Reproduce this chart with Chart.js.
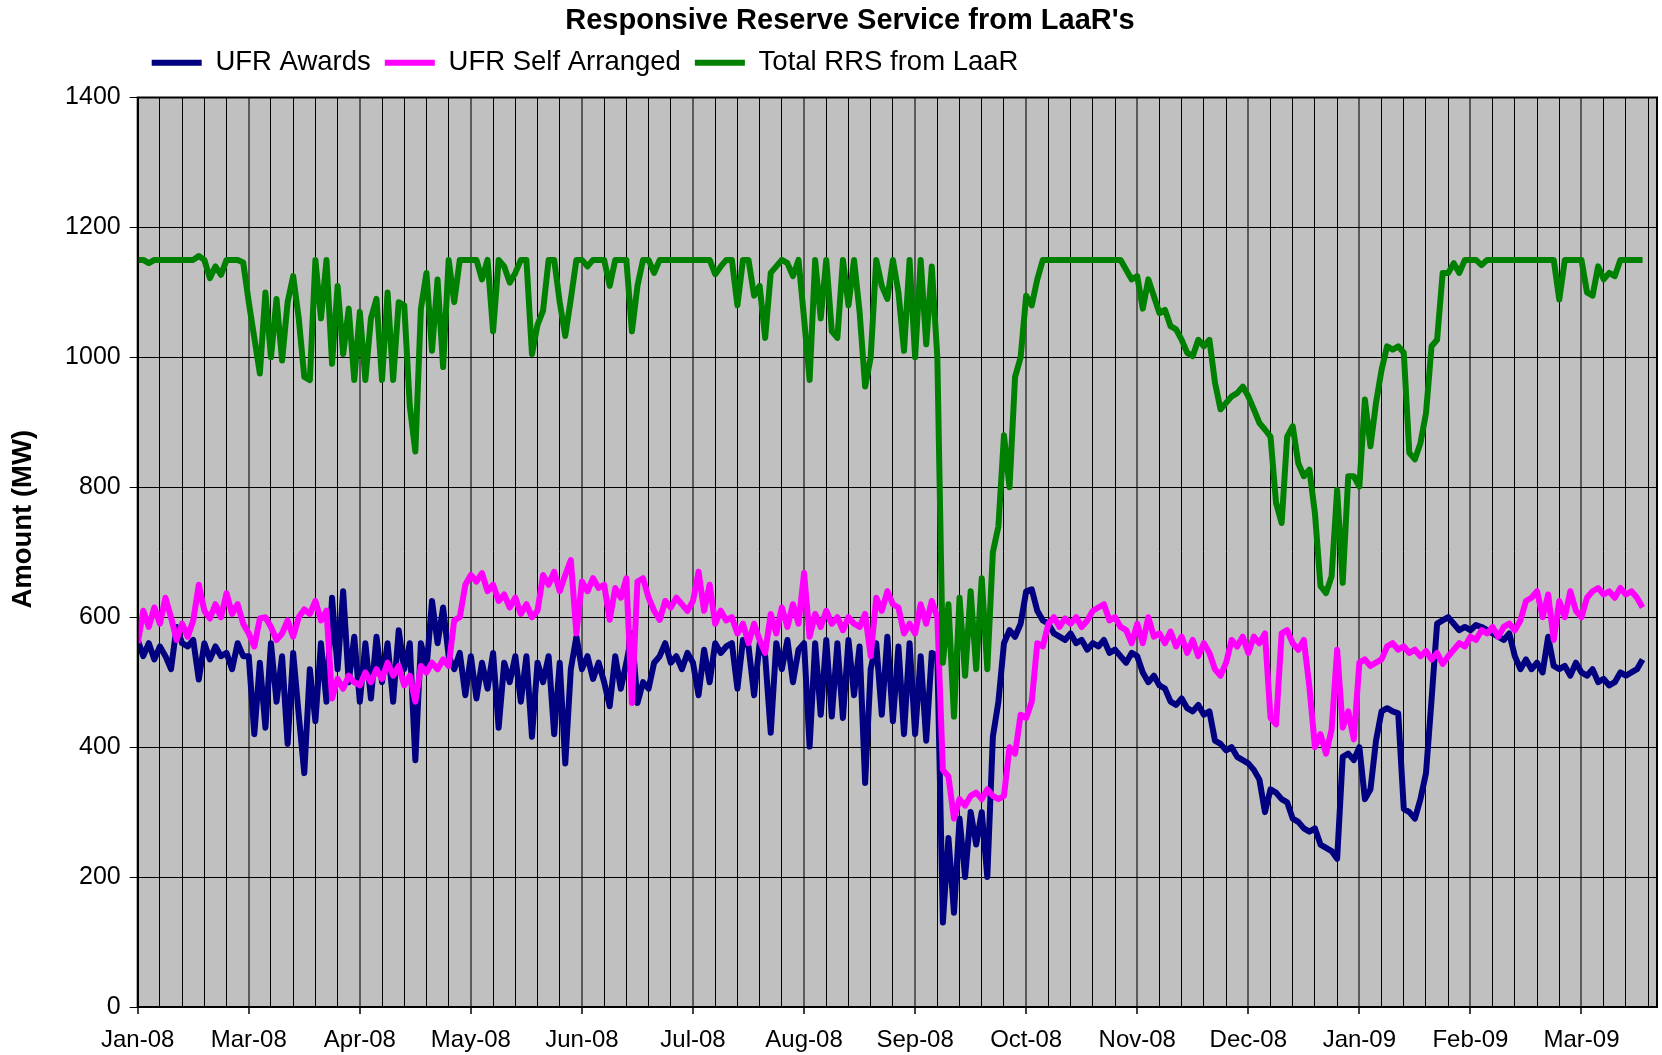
<!DOCTYPE html>
<html>
<head>
<meta charset="utf-8">
<title>Responsive Reserve Service from LaaR's</title>
<script src="https://cdn.jsdelivr.net/npm/chart.js@4.4.1/dist/chart.umd.min.js"></script>
<style>
  html, body { margin: 0; padding: 0; background: #fff; }
  #wrap { width: 1662px; height: 1055px; }
</style>
</head>
<body>
<div id="wrap"><canvas id="rrsChart" width="1662" height="1055"></canvas></div>
<script>
// --- data (MW), one sample every quarter of a gridline ---

const monthLabels = ['Jan-08', 'Mar-08', 'Apr-08', 'May-08', 'Jun-08', 'Jul-08', 'Aug-08',
  'Sep-08', 'Oct-08', 'Nov-08', 'Dec-08', 'Jan-09', 'Feb-09', 'Mar-09'];
const GRID_PER_LABEL = 5;
const SAMPLES_PER_GRID = 4;
const AXIS_END = 68.4;

const ufrAwards = [
  565, 540, 560, 535, 555, 540, 520, 585, 560, 555, 565, 504, 560, 535, 555, 540, 545, 520, 560, 540,
  540, 420, 530, 430, 560, 470, 540, 405, 545, 450, 360, 520, 440, 560, 470, 630, 520, 640, 500, 570,
  470, 560, 475, 570, 500, 560, 470, 580, 520, 560, 380, 560, 520, 625, 560, 615, 540, 520, 545, 480,
  540, 475, 530, 490, 545, 430, 530, 500, 540, 470, 540, 416, 530, 500, 540, 420, 530, 375, 520, 570,
  520, 540, 505, 530, 500, 463, 540, 490, 530, 575, 468, 500, 490, 530, 540, 560, 530, 540, 520, 545,
  530, 480, 550, 500, 560, 545, 555, 560, 490, 565, 555, 480, 560, 540, 422, 560, 520, 565, 500, 550,
  560, 401, 560, 450, 565, 447, 560, 445, 565, 480, 555, 345, 520, 560, 450, 570, 440, 555, 420, 560,
  420, 540, 410, 545, 540, 130, 260, 145, 290, 200, 300, 250, 300, 200, 416, 470, 560, 580, 570, 590,
  640, 643, 610, 595, 590, 575, 570, 565, 575, 560, 565, 550, 560, 555, 565, 545, 550, 540, 530, 545,
  540, 515, 500, 510, 495, 490, 470, 465, 475, 460, 455, 465, 450, 455, 410, 405, 395, 400, 385, 380,
  375, 365, 350, 300, 335, 330, 320, 315, 290, 285, 275, 270, 275, 250, 245, 240, 228, 385, 390, 380,
  400, 320, 335, 410, 455, 460, 455, 452, 305, 300, 290, 320, 360, 473, 590, 595, 600, 590, 580, 585,
  580, 588, 585, 580, 575, 570, 565, 575, 540, 520, 535, 520, 530, 515, 570, 525, 520, 525, 510, 530,
  515, 510, 520, 500, 505, 495, 500, 515, 510, 515, 520, 535
];

const ufrSelfArranged = [
  560, 610, 585, 615, 590, 630, 600, 565, 590, 570, 595, 650, 610, 598, 620, 600, 637, 605, 620, 590,
  575, 555, 598, 600, 585, 565, 575, 595, 570, 600, 612, 605, 625, 595, 610, 475, 505, 490, 510, 500,
  495, 515, 500, 520, 505, 530, 510, 525, 495, 510, 470, 525, 515, 530, 520, 535, 525, 595, 600, 650,
  665, 655, 668, 640, 650, 625, 635, 615, 630, 605, 620, 600, 610, 665, 650, 670, 640, 665, 688, 575,
  655, 640, 660, 645, 650, 596, 645, 630, 660, 468, 655, 660, 630, 610, 596, 625, 615, 630, 620, 610,
  625, 670, 610, 650, 590, 610, 595, 600, 575, 590, 560, 590, 565, 545, 605, 575, 615, 585, 620, 590,
  668, 570, 605, 585, 610, 590, 600, 580, 600, 590, 585, 605, 540, 630, 610, 640, 620, 615, 575, 590,
  575, 620, 590, 625, 600, 365, 355, 290, 320, 310, 325, 330, 320, 335, 325, 320, 325, 400, 390, 450,
  445, 470, 560, 555, 590, 600, 585, 598, 590, 600, 585, 595, 610, 615, 620, 595, 600, 585, 580, 560,
  590, 560, 600, 570, 575, 560, 578, 555, 570, 545, 565, 540, 560, 545, 520, 510, 530, 565, 555, 570,
  545, 570, 560, 575, 445, 435, 575, 580, 560, 550, 565, 493, 400, 420, 390, 427, 550, 430, 455, 412,
  530, 535, 525, 530, 535, 555, 560, 550, 555, 545, 550, 540, 548, 535, 545, 528, 540, 550, 560, 555,
  570, 565, 580, 575, 585, 570, 585, 590, 580, 595, 625, 630, 640, 600, 635, 565, 625, 600, 640, 610,
  600, 630, 640, 645, 635, 640, 630, 645, 635, 640, 630, 615
];

const totalRrs = [
  1150, 1150, 1145, 1150, 1150, 1150, 1150, 1150, 1150, 1150, 1150, 1156, 1150, 1122, 1140, 1127, 1150, 1150, 1150, 1146,
  1085, 1030, 975, 1100, 1000, 1090, 995, 1085, 1125, 1060, 970, 965, 1150, 1060, 1150, 990, 1110, 1005, 1075, 965,
  1070, 965, 1060, 1090, 965, 1100, 965, 1085, 1080, 925, 855, 1075, 1130, 1010, 1120, 985, 1150, 1085, 1150, 1150,
  1150, 1150, 1120, 1150, 1040, 1150, 1140, 1115, 1130, 1150, 1150, 1005, 1050, 1072, 1150, 1150, 1085, 1033, 1090, 1150,
  1150, 1140, 1150, 1150, 1150, 1110, 1150, 1150, 1150, 1040, 1110, 1150, 1150, 1130, 1150, 1150, 1150, 1150, 1150, 1150,
  1150, 1150, 1150, 1150, 1128, 1140, 1150, 1150, 1080, 1150, 1150, 1095, 1110, 1030, 1130, 1140, 1150, 1145, 1125, 1150,
  1060, 965, 1150, 1060, 1150, 1040, 1030, 1150, 1080, 1150, 1070, 955, 1000, 1150, 1110, 1090, 1150, 1100, 1010, 1150,
  1000, 1150, 1020, 1140, 1000, 530, 620, 447, 630, 510, 640, 520, 660, 520, 700, 740, 880, 800, 970, 1000,
  1095, 1080, 1120, 1150, 1150, 1150, 1150, 1150, 1150, 1150, 1150, 1150, 1150, 1150, 1150, 1150, 1150, 1150, 1135, 1120,
  1125, 1075, 1120, 1094, 1068, 1073, 1048, 1043, 1027, 1007, 1002, 1027, 1017, 1027, 961, 920, 930, 940, 945, 955,
  940, 920, 899, 889, 878, 776, 745, 878, 894, 837, 817, 827, 760, 648, 637, 663, 796, 653, 817, 817,
  801, 935, 863, 930, 981, 1017, 1012, 1017, 1007, 853, 843, 868, 914, 1017, 1027, 1130, 1130, 1145, 1130, 1150,
  1150, 1150, 1142, 1150, 1150, 1150, 1150, 1150, 1150, 1150, 1150, 1150, 1150, 1150, 1150, 1150, 1089, 1150, 1150, 1150,
  1150, 1100, 1095, 1140, 1120, 1130, 1125, 1150, 1150, 1150, 1150, 1150
];

// --- helpers ---

const FONT = '"Liberation Sans", Arial, Helvetica, sans-serif';

const toPoints = (vals) => vals.map((v, i) => ({ x: i / SAMPLES_PER_GRID, y: v }));
const isMajor = (c) => c.tick && c.tick.value % GRID_PER_LABEL === 0;

const serie = (label, vals, color, order) => ({
    label: label,
    data: toPoints(vals),
    borderColor: color,
    backgroundColor: color,
    borderWidth: 6,
    pointRadius: 0,
    tension: 0,
    borderJoinStyle: 'round',
    order: order
});

// grey plot area, black frame and the y title (Excel puts it a little above the middle)
const excelLook = {
    id: 'excelLook',
    beforeInit(chart) {
        const fit = chart.legend.fit;
        chart.legend.fit = function () {
            fit.call(this);
            this.height += 11;
        };
    },
    afterLayout(chart) {
        chart.titleBlock.left += 43;
    },
    beforeDraw(chart) {
        const { ctx, chartArea: a } = chart;
        ctx.save();
        ctx.fillStyle = '#C0C0C0';
        ctx.fillRect(a.left, a.top, a.right - a.left, a.bottom - a.top);
        ctx.restore();
    },
    afterDraw(chart) {
        const { ctx, chartArea: a } = chart;
        ctx.save();
        ctx.strokeStyle = '#000';
        ctx.lineWidth = 2;
        ctx.strokeRect(a.left, a.top, a.right - a.left, a.bottom - a.top);
        ctx.translate(23, (a.top + a.bottom) / 2 - 33);
        ctx.rotate(-Math.PI / 2);
        ctx.font = 'bold 27.5px ' + FONT;
        ctx.textAlign = 'center';
        ctx.textBaseline = 'middle';
        ctx.fillStyle = '#000';
        ctx.fillText('Amount (MW)', 0, 0);
        ctx.restore();
    }
};

// --- chart ---

new Chart(document.getElementById('rrsChart'), {
    type: 'line',
    data: {
        datasets: [
            serie('UFR Awards', ufrAwards, '#000080', 2),
            serie('UFR Self Arranged', ufrSelfArranged, '#FF00FF', 1),
            serie('Total RRS from LaaR', totalRrs, '#008000', 0)
        ]
    },
    options: {
        responsive: false,
        animation: false,
        devicePixelRatio: 1,
        layout: { padding: { left: 0, right: 5, top: 0, bottom: 0 } },
        scales: {
            x: {
                type: 'linear',
                min: 0,
                max: AXIS_END,
                bounds: 'data',
                afterFit: (s) => { s.height = 48; },
                border: { display: true, color: '#000', width: 2 },
                grid: {
                    color: (c) => isMajor(c) ? '#5a5a5a' : '#000',
                    lineWidth: (c) => isMajor(c) ? 2 : 1,
                    tickColor: (c) => isMajor(c) ? '#000' : 'rgba(0,0,0,0)',
                    tickWidth: 1.5,
                    tickLength: 7
                },
                ticks: {
                    stepSize: 1,
                    includeBounds: false,
                    autoSkip: false,
                    maxRotation: 0,
                    minRotation: 0,
                    padding: 12,
                    color: '#000',
                    font: { family: FONT, size: 24 },
                    callback: (v) => v % GRID_PER_LABEL === 0 ? monthLabels[v / GRID_PER_LABEL] : ''
                }
            },
            y: {
                min: 0,
                max: 1400,
                afterFit: (s) => { s.width = 137.7; },
                border: { color: '#000', width: 2 },
                grid: { color: '#000', lineWidth: 1, tickLength: 8 },
                ticks: {
                    stepSize: 200,
                    padding: 9,
                    color: '#000',
                    font: { family: FONT, size: 25 },
                    callback: (v) => String(v)
                }
            }
        },
        plugins: {
            title: {
                display: true,
                text: "Responsive Reserve Service from LaaR's",
                color: '#000',
                font: { family: FONT, size: 29, weight: 'bold', lineHeight: 1 },
                padding: { top: 6, bottom: 0 }
            },
            legend: {
                position: 'top',
                align: 'start',
                fullSize: false,
                reverse: true,
                labels: {
                    usePointStyle: true,
                    pointStyle: 'line',
                    pointStyleWidth: 50,
                    padding: 14,
                    color: '#000',
                    font: { family: FONT, size: 27.5 }
                }
            },
            tooltip: { enabled: false }
        }
    },
    plugins: [excelLook]
});
</script>
</body>
</html>
